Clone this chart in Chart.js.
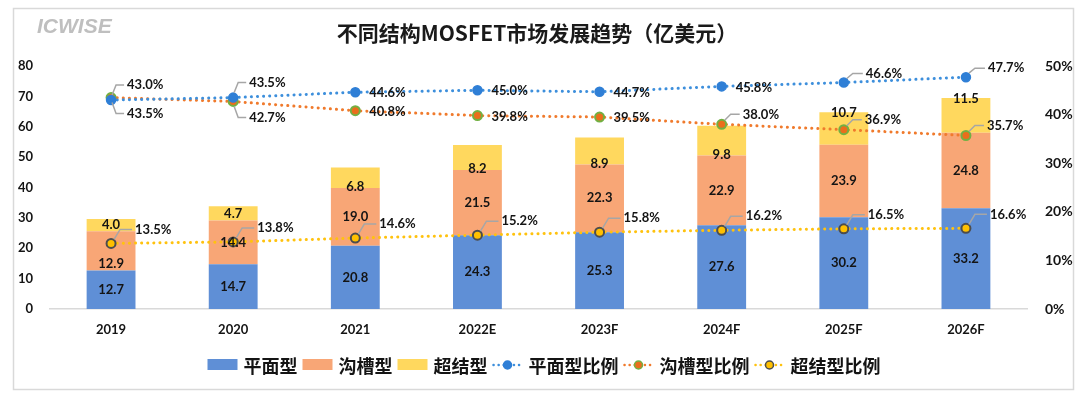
<!DOCTYPE html>
<html>
<head>
<meta charset="utf-8">
<title>不同结构MOSFET市场发展趋势</title>
<script src="https://cdn.jsdelivr.net/npm/chart.js@4.4.1/dist/chart.umd.min.js"></script>
<style>
  html, body { margin: 0; padding: 0; background: #fff; }
  canvas { display: block; }
</style>
</head>
<body>
<canvas id="mosfetChart" width="1080" height="398"></canvas>
<script>
// values
const years = ['2019', '2020', '2021', '2022E', '2023F', '2024F', '2025F', '2026F'];
const planar = [12.7, 14.7, 20.8, 24.3, 25.3, 27.6, 30.2, 33.2];
const trench = [12.9, 14.4, 19.0, 21.5, 22.3, 22.9, 23.9, 24.8];
const superJunction = [4.0, 4.7, 6.8, 8.2, 8.9, 9.8, 10.7, 11.5];
const planarShare = [43.0, 43.5, 44.6, 45.0, 44.7, 45.8, 46.6, 47.7];
const trenchShare = [43.5, 42.7, 40.8, 39.8, 39.5, 38.0, 36.9, 35.7];
const sjShare = [13.5, 13.8, 14.6, 15.2, 15.8, 16.2, 16.5, 16.6];

// where each label sits (bars: mid / low / base / top, lines: right / up / down / leader)
const trenchBarLabelAt = ['low', 'mid', 'mid', 'mid', 'mid', 'mid', 'mid', 'mid'];
const sjBarLabelAt = ['mid', 'mid', 'base', 'base', 'base', 'base', 'top', 'top'];
const planarLabelAt = ['up', 'up', 'right', 'right', 'right', 'right', 'leader', 'leader'];
const trenchLabelAt = ['down', 'down', 'right', 'right', 'right', 'leader', 'leader', 'leader'];
const sjLabelAt = ['leader', 'leader', 'leader', 'leader', 'leader', 'leader', 'leader', 'leader'];

const NUM_FONT = 'Lato, "Noto Sans CJK SC", sans-serif';
const CJK_FONT = '"Noto Sans CJK SC", Lato, sans-serif';
const TEXT = '#141414';

const dotted = { borderWidth: 3, borderDash: [0.1, 6], borderCapStyle: 'round' };

// bar segment values + share labels
const labelPlugin = {
    id: 'valueLabels',
    afterDatasetsDraw(chart) {
        const ctx = chart.ctx;
        ctx.save();
        ctx.font = 'bold 13px ' + NUM_FONT;
        ctx.fillStyle = TEXT;
        chart.data.datasets.forEach((ds, i) => {
            const meta = chart.getDatasetMeta(i);
            if (ds.type === 'bar') {
                ctx.textAlign = 'center';
                ctx.textBaseline = 'middle';
                meta.data.forEach((bar, j) => {
                    const mode = ds.labelAt ? ds.labelAt[j] : 'mid';
                    let ly = (bar.y + bar.base) / 2;
                    if (mode === 'low') ly = bar.base - 7;
                    if (mode === 'base') ly = bar.base - 1;
                    if (mode === 'top') ly = bar.y + 1;
                    ctx.fillText(ds.data[j].toFixed(1), bar.x, ly);
                });
            } else {
                meta.data.forEach((pt, j) => {
                    const txt = ds.data[j].toFixed(1) + '%';
                    const mode = ds.labelAt[j];
                    const x = pt.x, y = pt.y;
                    ctx.strokeStyle = '#a6a6a6';
                    ctx.lineWidth = 1.5;
                    ctx.textAlign = 'left';
                    ctx.textBaseline = 'middle';
                    let tx, ty;
                    if (mode === 'right') {
                        tx = x + 14; ty = y + 1;
                    } else if (mode === 'up' || mode === 'down') {
                        const dy = mode === 'up' ? -15 : 16;
                        ctx.beginPath();
                        ctx.moveTo(x + 1, y + (dy < 0 ? -5 : 5));
                        ctx.lineTo(x + 5, y + dy);
                        ctx.lineTo(x + 13, y + dy);
                        ctx.stroke();
                        tx = x + 16; ty = y + dy;
                    } else {
                        const dx = ds.leader[0], dy = ds.leader[1];
                        ctx.beginPath();
                        ctx.moveTo(x + 3, y - 4);
                        ctx.lineTo(x + 9, y - dy);
                        ctx.lineTo(x + dx - 3, y - dy);
                        ctx.stroke();
                        tx = x + dx; ty = y - dy;
                    }
                    ctx.fillText(txt, tx, ty);
                });
            }
        });
        ctx.restore();
    }
};

// frame, logo, title and legend
const framePlugin = {
    id: 'frame',
    beforeDraw(chart) {
        const ctx = chart.ctx;
        ctx.save();
        ctx.fillStyle = '#fff';
        ctx.fillRect(0, 0, chart.width, chart.height);
        ctx.strokeStyle = '#d9d9d9';
        ctx.lineWidth = 1.5;
        ctx.strokeRect(13.5, 8.5, 1060, 381);
        ctx.restore();
    },
    afterDraw(chart) {
        const ctx = chart.ctx;
        ctx.save();
        ctx.textBaseline = 'middle';
        ctx.font = 'italic bold 21px "Liberation Sans", sans-serif';
        ctx.fillStyle = '#bfbfbf';
        ctx.textAlign = 'left';
        ctx.fillText('ICWISE', 37, 27);

        ctx.font = 'bold 21px ' + CJK_FONT;
        ctx.fillStyle = '#1a1a1a';
        ctx.textAlign = 'center';
        ctx.fillText('不同结构MOSFET市场发展趋势（亿美元）', 537, 33);

        // legend
        const items = chart.data.datasets;
        ctx.font = 'bold 18px ' + CJK_FONT;
        const boxW = 30, gapIn = 6, gapOut = 5;
        let total = 0;
        items.forEach(ds => { total += boxW + gapIn + ctx.measureText(ds.label).width + gapOut; });
        total -= gapOut;
        let x = 544 - total / 2;
        const ly = 365;
        items.forEach(ds => {
            if (ds.type === 'bar') {
                ctx.fillStyle = ds.backgroundColor;
                ctx.fillRect(x, ly - 6, boxW, 11);
            } else {
                ctx.strokeStyle = ds.borderColor;
                ctx.lineWidth = 2.5;
                ctx.lineCap = 'round';
                ctx.setLineDash([0.1, 5]);
                ctx.beginPath();
                ctx.moveTo(x + 1, ly);
                ctx.lineTo(x + boxW - 1, ly);
                ctx.stroke();
                ctx.setLineDash([]);
                ctx.beginPath();
                ctx.arc(x + boxW / 2, ly, 4, 0, Math.PI * 2);
                ctx.fillStyle = ds.pointBackgroundColor;
                ctx.fill();
                ctx.lineWidth = 1.5;
                ctx.strokeStyle = ds.pointBorderColor;
                ctx.stroke();
            }
            x += boxW + gapIn;
            ctx.fillStyle = TEXT;
            ctx.textAlign = 'left';
            ctx.fillText(ds.label, x, ly + 1);
            x += ctx.measureText(ds.label).width + gapOut;
        });
        ctx.restore();
    }
};

const ctx = document.getElementById('mosfetChart').getContext('2d');
const mosfetChart = new Chart(ctx, {
    data: {
        labels: years,
        datasets: [
            { type: 'bar', label: '平面型', data: planar, backgroundColor: '#5f8fd6', stack: 'm', yAxisID: 'y', order: 2, barPercentage: 0.8, categoryPercentage: 0.5 },
            { type: 'bar', label: '沟槽型', data: trench, backgroundColor: '#f8a676', stack: 'm', yAxisID: 'y', order: 2, barPercentage: 0.8, categoryPercentage: 0.5, labelAt: trenchBarLabelAt },
            { type: 'bar', label: '超结型', data: superJunction, backgroundColor: '#ffd85e', stack: 'm', yAxisID: 'y', order: 2, barPercentage: 0.8, categoryPercentage: 0.5, labelAt: sjBarLabelAt },
            Object.assign({ type: 'line', label: '平面型比例', data: planarShare, yAxisID: 'y1', order: 1,
                borderColor: '#3d8fdc', pointBackgroundColor: '#2f7fd6', pointBorderColor: '#2f7fd6',
                pointRadius: 4.5, pointBorderWidth: 1.5, labelAt: planarLabelAt, leader: [22, 9] }, dotted),
            Object.assign({ type: 'line', label: '沟槽型比例', data: trenchShare, yAxisID: 'y1', order: 1,
                borderColor: '#f07a2c', pointBackgroundColor: '#ea6e1c', pointBorderColor: '#72b043',
                pointRadius: 4.5, pointBorderWidth: 2, labelAt: trenchLabelAt, leader: [21, 10] }, dotted),
            Object.assign({ type: 'line', label: '超结型比例', data: sjShare, yAxisID: 'y1', order: 1,
                borderColor: '#ffc20e', pointBackgroundColor: '#ffc000', pointBorderColor: '#4d4d4d',
                pointRadius: 4.5, pointBorderWidth: 2, labelAt: sjLabelAt, leader: [24, 14] }, dotted)
        ]
    },
    options: {
        responsive: false,
        animation: false,
        devicePixelRatio: 1,
        layout: { padding: { top: 66, left: 0, right: 0, bottom: 59 } },
        plugins: {
            legend: { display: false },
            title: { display: false },
            tooltip: { enabled: false }
        },
        scales: {
            x: {
                stacked: true,
                grid: { display: false },
                border: { display: true, color: '#d9d9d9', width: 1.5 },
                ticks: { color: TEXT, font: { family: NUM_FONT, size: 13, weight: 'bold' }, padding: 5 },
                afterFit: s => { s.height = 30; }
            },
            y: {
                stacked: true,
                position: 'left',
                min: 0, max: 80,
                grid: { display: false },
                border: { display: false },
                ticks: { stepSize: 10, color: TEXT, font: { family: NUM_FONT, size: 13, weight: 'bold' }, padding: 9 },
                afterFit: s => { s.width = 50; }
            },
            y1: {
                position: 'right',
                min: 0, max: 50,
                grid: { display: false },
                border: { display: false },
                ticks: { stepSize: 10, color: TEXT, font: { family: NUM_FONT, size: 14, weight: 'bold' }, padding: 10,
                    callback: v => v + '%' },
                afterFit: s => { s.width = 53; }
            }
        }
    },
    plugins: [framePlugin, labelPlugin]
});
</script>
</body>
</html>
